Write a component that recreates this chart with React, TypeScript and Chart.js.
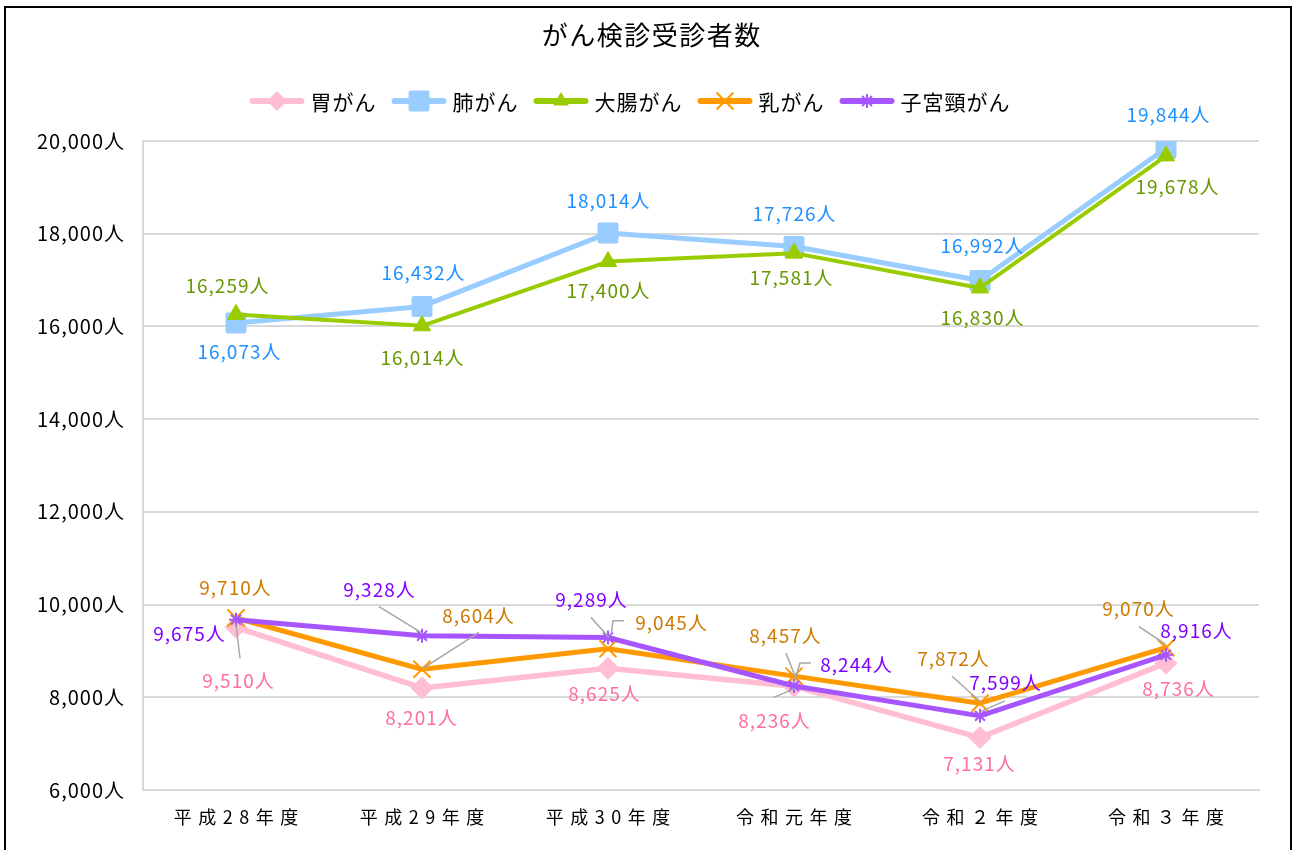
import React, { useEffect, useRef } from 'react';
import { Chart, registerables } from 'chart.js';

Chart.register(...registerables);

// ---------- data ----------
const chartTitle = 'がん検診受診者数';
const categories = ['平成28年度', '平成29年度', '平成30年度', '令和元年度', '令和２年度', '令和３年度'];
const seriesNames = ['胃がん', '肺がん', '大腸がん', '乳がん', '子宮頸がん'];
const stomach = [9510, 8201, 8625, 8236, 7131, 8736];
const lung = [16073, 16432, 18014, 17726, 16992, 19844];
const colorectal = [16259, 16014, 17400, 17581, 16830, 19678];
const breast = [9710, 8604, 9045, 8457, 7872, 9070];
const cervical = [9675, 9328, 9289, 8244, 7599, 8916];
const yMin = 6000;
const yMax = 20000;
const yStep = 2000;
const unit = '人';

// ---------- styles ----------
const FONT = "'Noto Sans CJK JP', 'Noto Sans', sans-serif";
const lineColors = ['#FFBED2', '#99CCFF', '#99CC00', '#FF9900', '#A655FF'];
const labelColors = ['#FF6F9A', '#1E90FF', '#669900', '#CC7A00', '#8000FF'];
const pointStyles = ['rectRot', 'rect', 'triangle', 'crossRot', 'star'];
const pointRadii = [11, 12, 10, 12, 7];
const pointBorderWidths = [1, 4, 1, 2, 2];
const lineWidths = [5.5, 5, 4, 5, 5];
const drawOrder = [5, 4, 3, 2, 1];

// label centre offsets (px) relative to each point
const labelOffsets = [
  [[2, 52], [-1, 29], [-4, 24], [-20, 33], [-1, 25], [12, 25]],
  [[3, 28], [1, -35], [0, -33], [0, -34], [2, -36], [2, -34]],
  [[-9, -30], [0, 31], [0, 28], [-3, 24], [2, 29], [11, 30]],
  [[-1, -31], [56, -55], [63, -27], [-9, -41], [-27, -45], [-28, -40]],
  [[-47, 13], [-43, -47], [-17, -39], [62, -22], [25, -34], [30, -25]],
];
// leader line polylines (px) relative to each point
const leaderLines: (number[][] | null)[][] = [
  [[[0, -3], [4, 31]], null, null, [[-20, 11], [1, 2]], null, null],
  [null, null, null, null, null, null],
  [null, null, null, null, null, null],
  [null, [[1, -1], [57, -37]], [[3, -13], [5, -28], [16, -28]], [[-8, -23], [1, 0]], [[-28, -27], [1, -1]], [[-27, -21], [0, -3]]],
  [null, [[-43, -29], [1, -2]], [[-17, -20], [1, 0]], [[0, -3], [6, -23], [17, -23]], [[0, -4], [25, -15]], null],
];

const seriesValues = [stomach, lung, colorectal, breast, cervical];

const fmt = (v: number) => v.toLocaleString('en-US') + unit;

function drawMarker(ctx: CanvasRenderingContext2D, style: string, x: number, y: number, r: number, color: string) {
  ctx.save();
  ctx.fillStyle = color;
  ctx.strokeStyle = color;
  ctx.lineWidth = 2;
  ctx.lineJoin = 'round';
  ctx.beginPath();
  if (style === 'rectRot') {
    ctx.moveTo(x, y - r);
    ctx.lineTo(x + r, y);
    ctx.lineTo(x, y + r);
    ctx.lineTo(x - r, y);
    ctx.closePath();
    ctx.fill();
  } else if (style === 'rect') {
    const h = r * 0.707;
    ctx.lineWidth = 4;
    ctx.rect(x - h, y - h, 2 * h, 2 * h);
    ctx.fill();
    ctx.stroke();
  } else if (style === 'triangle') {
    ctx.moveTo(x, y - r);
    ctx.lineTo(x + r * 0.866, y + r * 0.5);
    ctx.lineTo(x - r * 0.866, y + r * 0.5);
    ctx.closePath();
    ctx.fill();
  } else if (style === 'crossRot') {
    const d = r * 0.707;
    ctx.moveTo(x - d, y - d);
    ctx.lineTo(x + d, y + d);
    ctx.moveTo(x + d, y - d);
    ctx.lineTo(x - d, y + d);
    ctx.stroke();
  } else if (style === 'star') {
    const d = r * 0.707;
    ctx.moveTo(x - d, y - d);
    ctx.lineTo(x + d, y + d);
    ctx.moveTo(x + d, y - d);
    ctx.lineTo(x - d, y + d);
    ctx.moveTo(x, y - r);
    ctx.lineTo(x, y + r);
    ctx.moveTo(x - r, y);
    ctx.lineTo(x + r, y);
    ctx.stroke();
  }
  ctx.restore();
}

const customPlugin = {
  id: 'customDecor',
  beforeDraw(chart: any) {
    const ctx = chart.ctx as any;
    ctx.letterSpacing = '1px';
  },
  beforeDatasetsDraw(chart: any) {
    chart.ctx.lineJoin = 'round';
  },
  afterDraw(chart: any) {
    const ctx = chart.ctx as any;
    const xs = chart.scales.x;
    const ys = chart.scales.y;

    // title
    ctx.save();
    ctx.font = `26px ${FONT}`;
    ctx.letterSpacing = '1.5px';
    ctx.fillStyle = '#000';
    ctx.textAlign = 'center';
    ctx.textBaseline = 'middle';
    ctx.fillText(chartTitle, 645 + 0.75, 27);
    ctx.restore();

    // legend
    ctx.save();
    ctx.font = `21px ${FONT}`;
    ctx.letterSpacing = '1px';
    ctx.textBaseline = 'middle';
    ctx.textAlign = 'left';
    const lineLen = 55;
    const gapText = 6;
    const gapItem = 15;
    const widths = seriesNames.map((n) => ctx.measureText(n).width);
    const total = widths.reduce((a: number, w: number) => a + lineLen + gapText + w, 0) + gapItem * (seriesNames.length - 1);
    let lx = 624 - total / 2;
    const ly = 93;
    seriesNames.forEach((name, i) => {
      ctx.save();
      ctx.strokeStyle = lineColors[i];
      ctx.lineWidth = 6;
      ctx.lineCap = 'round';
      ctx.beginPath();
      ctx.moveTo(lx + 3, ly);
      ctx.lineTo(lx + lineLen - 3, ly);
      ctx.stroke();
      ctx.restore();
      drawMarker(ctx, pointStyles[i], lx + lineLen / 2, ly, [10, 12, 9, 12, 7][i], lineColors[i]);
      ctx.fillStyle = '#000';
      ctx.fillText(name, lx + lineLen + gapText, ly + 1);
      lx += lineLen + gapText + widths[i] + gapItem;
    });
    ctx.restore();

    // x category labels
    ctx.save();
    ctx.font = `18px ${FONT}`;
    ctx.letterSpacing = '6.5px';
    ctx.fillStyle = '#000';
    ctx.textAlign = 'center';
    ctx.textBaseline = 'middle';
    categories.forEach((c, i) => {
      ctx.fillText(c, xs.getPixelForValue(i) + 3.25, chart.chartArea.bottom + 27);
    });
    ctx.restore();

    // leader lines
    ctx.save();
    ctx.strokeStyle = '#A6A6A6';
    ctx.lineWidth = 1.5;
    seriesValues.forEach((vals, s) => {
      vals.forEach((v, i) => {
        const pts = leaderLines[s][i];
        if (!pts) return;
        const px = xs.getPixelForValue(i);
        const py = ys.getPixelForValue(v);
        ctx.beginPath();
        pts.forEach((p, k) => {
          if (k === 0) ctx.moveTo(px + p[0], py + p[1]);
          else ctx.lineTo(px + p[0], py + p[1]);
        });
        ctx.stroke();
      });
    });
    ctx.restore();

    // data labels
    ctx.save();
    ctx.font = `19px ${FONT}`;
    ctx.letterSpacing = '1px';
    ctx.textAlign = 'center';
    ctx.textBaseline = 'middle';
    seriesValues.forEach((vals, s) => {
      ctx.fillStyle = labelColors[s];
      vals.forEach((v, i) => {
        const px = xs.getPixelForValue(i);
        const py = ys.getPixelForValue(v);
        const o = labelOffsets[s][i];
        ctx.fillText(fmt(v), px + o[0] + 0.5, py + o[1] + 1);
      });
    });
    ctx.restore();
  },
};

export default function App() {
  const canvasRef = useRef<HTMLCanvasElement | null>(null);

  useEffect(() => {
    document.body.style.overflow = 'hidden';
    const canvas = canvasRef.current;
    if (!canvas) return;
    const chart = new Chart(canvas, {
      type: 'line',
      data: {
        labels: categories,
        datasets: seriesNames.map((name, i) => ({
          label: name,
          data: seriesValues[i],
          borderColor: lineColors[i],
          backgroundColor: lineColors[i],
          borderWidth: lineWidths[i],
          borderJoinStyle: 'round' as const,
          borderCapStyle: 'round' as const,
          pointStyle: pointStyles[i] as any,
          pointRadius: pointRadii[i],
          pointHoverRadius: pointRadii[i],
          pointBorderWidth: pointBorderWidths[i],
          pointBorderColor: lineColors[i],
          pointBackgroundColor: lineColors[i],
          tension: 0,
          fill: false,
          order: drawOrder[i],
        })),
      },
      options: {
        responsive: false,
        maintainAspectRatio: false,
        animation: false,
        events: [],
        layout: { padding: { top: 133, right: 31, bottom: 0, left: 0 } },
        plugins: {
          legend: { display: false },
          title: { display: false },
          tooltip: { enabled: false },
        },
        scales: {
          x: {
            type: 'category',
            offset: true,
            grid: { display: false, drawTicks: false },
            border: { display: true, color: '#D9D9D9', width: 2 },
            ticks: { display: false },
            afterFit: (scale: any) => {
              scale.height = 60;
            },
          },
          y: {
            min: yMin,
            max: yMax,
            grid: { color: '#D9D9D9', lineWidth: 2, drawTicks: false },
            border: { display: true, color: '#D9D9D9', width: 2 },
            ticks: {
              stepSize: yStep,
              padding: 18,
              color: '#000',
              font: { family: FONT, size: 20 },
              callback: (v: any) => fmt(Number(v)),
            },
            afterFit: (scale: any) => {
              scale.width = 137;
            },
          },
        },
      },
      plugins: [customPlugin],
    });
    return () => chart.destroy();
  }, []);

  return (
    <div
      style={{
        position: 'fixed',
        left: 4,
        top: 6,
        width: 1288,
        height: 900,
        border: '2px solid #000',
        boxSizing: 'border-box',
        background: '#fff',
      }}
    >
      <canvas ref={canvasRef} width={1284} height={842} style={{ display: 'block' }} />
    </div>
  );
}
